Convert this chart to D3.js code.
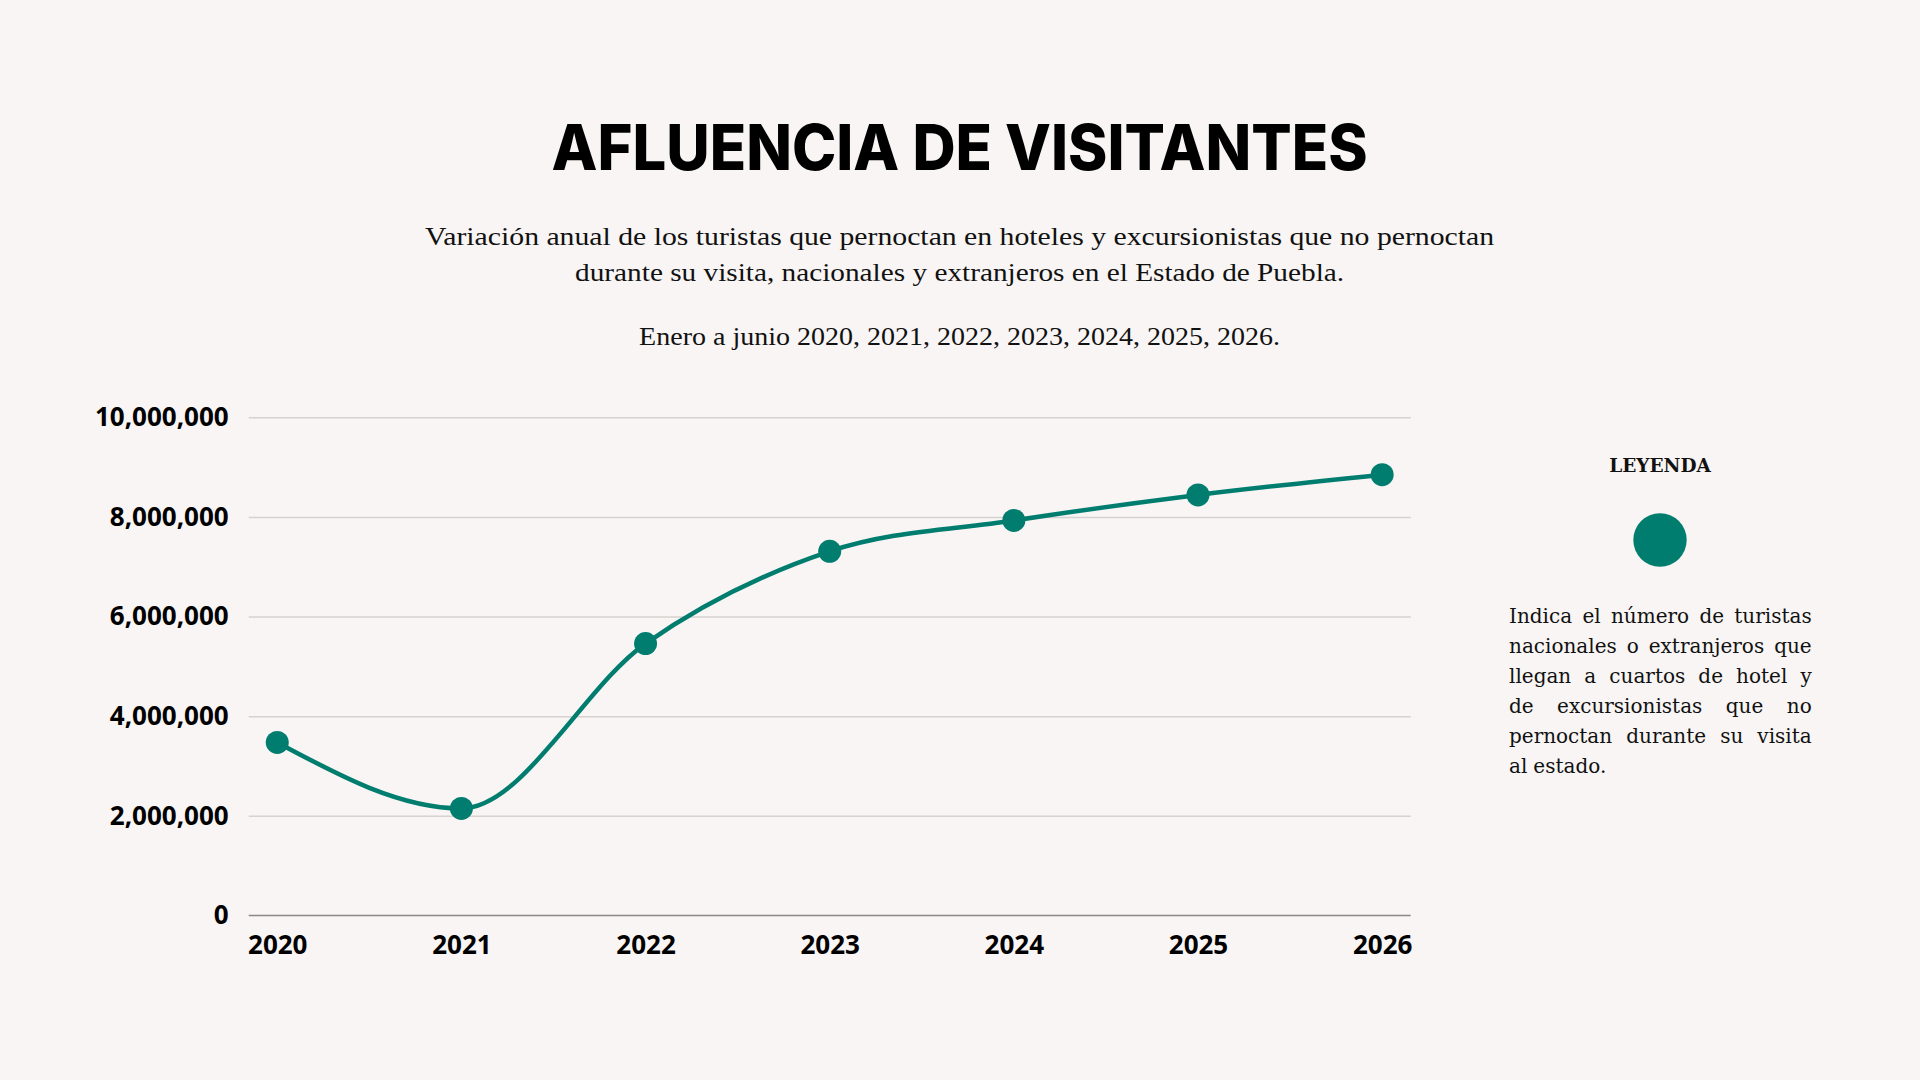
<!DOCTYPE html>
<html><head><meta charset="utf-8">
<script src="https://cdn.jsdelivr.net/npm/d3@7"></script>
<style>html,body{margin:0;padding:0;background:#f8f5f4;} svg{display:block}</style>
</head><body><svg id="c" width="1920" height="1080"></svg>
<script>
// ---- data ----
const years = ["2020", "2021", "2022", "2023", "2024", "2025", "2026"];
const visitors = [3473000, 2150000, 5458000, 7309000, 7929000, 8442000, 8849000];
const yTicks = [0, 2000000, 4000000, 6000000, 8000000, 10000000];
const titleText = "AFLUENCIA DE VISITANTES";
const subtitleLines = [
  "Variación anual de los turistas que pernoctan en hoteles y excursionistas que no pernoctan",
  "durante su visita, nacionales y extranjeros en el Estado de Puebla.",
  "Enero a junio 2020, 2021, 2022, 2023, 2024, 2025, 2026."
];
const legendTitle = "LEYENDA";
const legendLines = [
  "Indica el número de turistas",
  "nacionales o extranjeros que",
  "llegan a cuartos de hotel y",
  "de excursionistas que no",
  "pernoctan durante su visita",
  "al estado."
];

// ---- layout ----
const teal = "#007d6e";
const svg = d3.select("#c");
svg.append("rect").attr("width", 1920).attr("height", 1080).attr("fill", "#f8f5f4");

const plotL = 248.7, plotR = 1410.7, plotT = 417.3, plotB = 915.5;
const x = d3.scalePoint().domain(years).range([plotL, plotR]).padding(0.155);
const y = d3.scaleLinear().domain([0, 10000000]).range([plotB, plotT]);

// title
svg.append("text")
  .attr("x", 959.6).attr("y", 170).attr("text-anchor", "middle")
  .attr("font-family", "Inter, 'Open Sans', sans-serif").attr("font-weight", 800)
  .attr("font-size", 63).attr("fill", "#000")
  .attr("textLength", 816).attr("lengthAdjust", "spacingAndGlyphs")
  .text(titleText);

// subtitle
const subY = [245, 281, 345];
const subW = [1069, 769, 641];
subtitleLines.forEach((t, i) => {
  svg.append("text")
    .attr("x", 959.6).attr("y", subY[i]).attr("text-anchor", "middle")
    .attr("font-family", "'Liberation Serif', 'DejaVu Serif', serif")
    .attr("font-size", 25).attr("fill", "#111")
    .attr("textLength", subW[i]).attr("lengthAdjust", "spacingAndGlyphs")
    .text(t);
});

// y axis + gridlines
const yAxis = d3.axisLeft(y).tickValues(yTicks).tickFormat(d3.format(","))
  .tickSize(-(plotR - plotL)).tickPadding(20);
const gy = svg.append("g").attr("transform", `translate(${plotL},0)`).call(yAxis);
gy.select(".domain").remove();
gy.selectAll(".tick line").attr("stroke", "#d6d2d1").attr("stroke-width", 1.5)
  .filter(d => d === 0).remove();
gy.selectAll(".tick text").attr("font-family", "'Open Sans', sans-serif")
  .attr("font-weight", 700).attr("font-size", 26).attr("fill", "#000");

// x axis
const xAxis = d3.axisBottom(x).tickSize(0).tickPadding(20);
const gx = svg.append("g").attr("transform", `translate(0,${plotB})`).call(xAxis);
gx.select(".domain").attr("stroke", "#8c8888").attr("stroke-width", 1.6)
  .attr("d", `M${plotL},0H${plotR}`);
gx.selectAll(".tick text").attr("font-family", "'Open Sans', sans-serif")
  .attr("font-weight", 700).attr("font-size", 26).attr("fill", "#000");

// line
const data = years.map((yr, i) => ({ yr, v: visitors[i] }));
const line = d3.line().x(d => x(d.yr)).y(d => y(d.v)).curve(d3.curveMonotoneX);
svg.append("path").datum(data).attr("d", line)
  .attr("fill", "none").attr("stroke", teal).attr("stroke-width", 4.5)
  .attr("stroke-linecap", "round");
svg.selectAll("circle.pt").data(data).enter().append("circle")
  .attr("class", "pt").attr("cx", d => x(d.yr)).attr("cy", d => y(d.v))
  .attr("r", 11.5).attr("fill", teal);

// legend
svg.append("text").attr("x", 1660).attr("y", 471.5).attr("text-anchor", "middle")
  .attr("font-family", "'DejaVu Serif', serif").attr("font-weight", 700)
  .attr("font-size", 18.5).attr("fill", "#111").text(legendTitle);
svg.append("circle").attr("cx", 1660).attr("cy", 540).attr("r", 26.7).attr("fill", teal);

const lgL = 1509, lgR = 1811.7, lgY0 = 622.7, lgLH = 30;
const lg = svg.append("g").attr("font-family", "'DejaVu Serif', serif").attr("fill", "#111");
let fs = 20;
function measure(size) {
  lg.attr("font-size", size);
  lg.selectAll("*").remove();
  return legendLines.map(ln => {
    const words = ln.split(" ");
    const nodes = words.map(w => lg.append("text").text(w));
    return { nodes, widths: nodes.map(n => n.node().getComputedTextLength()) };
  });
}
let lines = measure(fs);
while (fs > 14 && lines.some((l, i) => i < legendLines.length - 1 &&
       d3.sum(l.widths) + (l.widths.length - 1) * 0.3 * fs > lgR - lgL)) {
  fs -= 0.25;
  lines = measure(fs);
}
lines.forEach((l, i) => {
  const yy = lgY0 + i * lgLH;
  const last = i === lines.length - 1;
  const total = d3.sum(l.widths);
  const gap = (!last && l.nodes.length > 1) ? (lgR - lgL - total) / (l.nodes.length - 1) : 0.3 * fs;
  let cx = lgL;
  l.nodes.forEach((n, k) => { n.attr("x", cx).attr("y", yy); cx += l.widths[k] + gap; });
});
</script></body></html>
